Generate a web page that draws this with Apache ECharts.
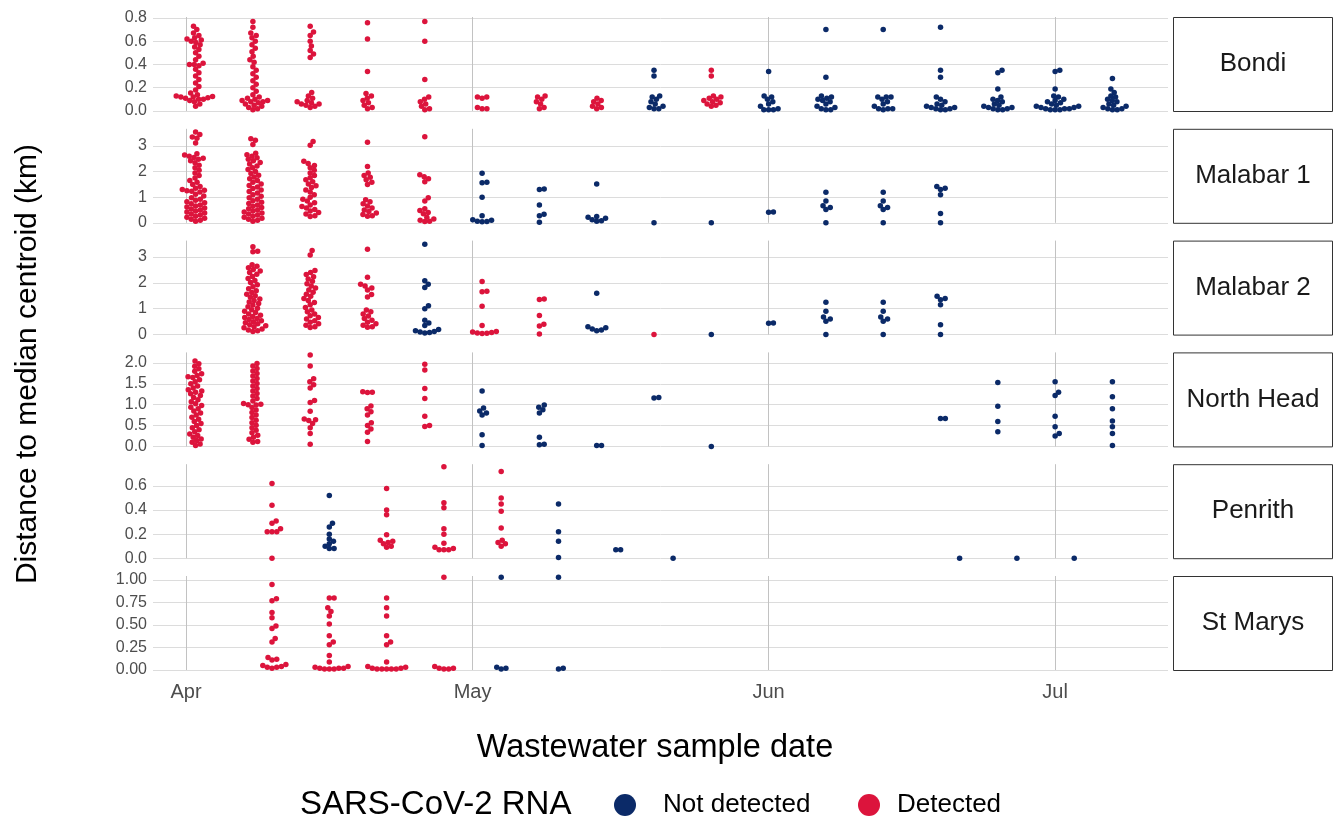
<!DOCTYPE html>
<html><head><meta charset="utf-8">
<script src="https://cdn.jsdelivr.net/npm/echarts@6/dist/echarts.min.js"></script>
<style>html,body{margin:0;padding:0;background:#fff}#c{width:1335px;height:819px}</style>
</head><body><div id="c"></div><script>
const FONT = '"Liberation Sans", Arial, sans-serif';
const NAVY = '#0b2a68', RED = '#dc143c';

const siteNames = ['Bondi', 'Malabar 1', 'Malabar 2', 'North Head', 'Penrith', 'St Marys'];
const monthTicks = ['2020-04-01', '2020-05-01', '2020-06-01', '2020-07-01'];
const monthLabels = ['Apr', 'May', 'Jun', 'Jul'];

// ---------- Bondi ----------
const bondiDates = ['2020-04-02','2020-04-08','2020-04-14','2020-04-20','2020-04-26','2020-05-02','2020-05-08','2020-05-14','2020-05-20','2020-05-26','2020-06-01','2020-06-07','2020-06-13','2020-06-19','2020-06-25','2020-07-01','2020-07-07'];
const bondiDetected = [1,1,1,1,1,1,1,1,0,1,0,0,0,0,0,0,0];
const bondiValues = [
 [0.73,0.70,0.67,0.65,0.63,0.62,0.61,0.60,0.59,0.57,0.55,0.53,0.50,0.47,0.44,0.41,0.40,0.40,0.39,0.36,0.33,0.30,0.27,0.24,0.21,0.18,0.155,0.14,0.13,0.125,0.12,0.12,0.115,0.11,0.10,0.10,0.09,0.08,0.06,0.04],
 [0.77,0.72,0.67,0.65,0.63,0.60,0.57,0.54,0.51,0.47,0.44,0.42,0.38,0.35,0.32,0.29,0.26,0.23,0.20,0.17,0.14,0.12,0.11,0.10,0.09,0.09,0.08,0.08,0.07,0.06,0.05,0.04,0.03,0.02,0.01],
 [0.73,0.68,0.65,0.60,0.56,0.52,0.49,0.46,0.16,0.13,0.11,0.09,0.08,0.07,0.06,0.06,0.05,0.04,0.03],
 [0.76,0.62,0.34,0.15,0.13,0.11,0.09,0.07,0.05,0.03,0.02],
 [0.77,0.60,0.27,0.12,0.10,0.08,0.06,0.04,0.02,0.01],
 [0.12,0.12,0.11,0.03,0.02,0.02],
 [0.13,0.12,0.10,0.08,0.06,0.03,0.02],
 [0.11,0.09,0.08,0.06,0.04,0.03,0.02],
 [0.35,0.30,0.13,0.12,0.10,0.08,0.06,0.04,0.03,0.02,0.02],
 [0.35,0.30,0.13,0.12,0.11,0.10,0.09,0.08,0.07,0.06,0.05,0.04],
 [0.34,0.13,0.12,0.10,0.08,0.06,0.04,0.02,0.01,0.01,0.01],
 [0.70,0.29,0.13,0.12,0.11,0.10,0.09,0.08,0.06,0.04,0.03,0.02,0.01,0.01],
 [0.70,0.12,0.12,0.12,0.10,0.08,0.06,0.04,0.02,0.02,0.02,0.01],
 [0.72,0.35,0.29,0.12,0.10,0.08,0.06,0.05,0.04,0.03,0.03,0.02,0.02,0.01,0.01],
 [0.35,0.33,0.19,0.12,0.10,0.09,0.08,0.06,0.05,0.04,0.03,0.03,0.02,0.02,0.01,0.01],
 [0.35,0.34,0.19,0.13,0.12,0.10,0.09,0.08,0.07,0.06,0.05,0.04,0.04,0.03,0.03,0.02,0.02,0.02,0.01,0.01,0.01],
 [0.28,0.19,0.16,0.13,0.12,0.10,0.09,0.08,0.06,0.05,0.04,0.03,0.02,0.02,0.01,0.01]
];
const bondiTicks = [0, 0.2, 0.4, 0.6, 0.8];

// ---------- Malabar 1 ----------
const malabar1Dates = ['2020-04-02','2020-04-08','2020-04-14','2020-04-20','2020-04-26','2020-05-02','2020-05-08','2020-05-14','2020-05-20','2020-05-26','2020-06-01','2020-06-07','2020-06-13','2020-06-19'];
const malabar1Detected = [1,1,1,1,1,0,0,0,0,0,0,0,0,0];
const malabar1Values = [
 [3.55,3.45,3.35,3.30,3.12,2.70,2.65,2.60,2.55,2.52,2.48,2.42,2.35,2.25,2.15,2.05,1.95,1.85,1.75,1.65,1.58,1.50,1.42,1.35,1.30,1.27,1.25,1.23,1.20,1.12,1.05,0.98,0.92,0.88,0.82,0.78,0.74,0.70,0.66,0.62,0.58,0.54,0.50,0.46,0.42,0.38,0.34,0.30,0.26,0.22,0.18,0.14,0.10,0.06],
 [3.28,3.22,3.06,2.72,2.66,2.60,2.54,2.48,2.42,2.36,2.30,2.22,2.15,2.08,2.00,1.93,1.86,1.79,1.72,1.65,1.58,1.52,1.46,1.40,1.34,1.28,1.22,1.16,1.10,1.04,0.98,0.92,0.86,0.80,0.75,0.70,0.65,0.60,0.55,0.50,0.46,0.42,0.38,0.34,0.30,0.26,0.22,0.18,0.14,0.10,0.06],
 [3.18,3.03,2.40,2.32,2.24,2.15,2.05,1.95,1.85,1.76,1.68,1.60,1.52,1.45,1.38,1.28,1.20,1.10,1.00,0.92,0.85,0.78,0.70,0.64,0.58,0.52,0.46,0.40,0.34,0.28,0.25],
 [3.15,2.20,1.95,1.85,1.78,1.68,1.58,1.50,0.90,0.82,0.74,0.66,0.58,0.50,0.44,0.38,0.32,0.28,0.26],
 [3.36,1.88,1.80,1.72,1.60,0.98,0.85,0.55,0.48,0.40,0.35,0.22,0.15,0.10,0.06,0.05],
 [1.94,1.58,1.56,1.00,0.28,0.12,0.10,0.06,0.05,0.04],
 [1.32,1.30,0.70,0.33,0.28,0.02],
 [1.52,0.25,0.22,0.18,0.12,0.08,0.06],
 [0.00],
 [0.00],
 [0.42,0.41],
 [1.19,0.85,0.67,0.60,0.52,0.00],
 [1.19,0.85,0.67,0.60,0.52,0.00],
 [1.42,1.35,1.30,1.10,0.36,0.00]
];
const malabar1Ticks = [0, 1, 2, 3];

// ---------- Malabar 2 ----------
const malabar2Dates = ['2020-04-08','2020-04-14','2020-04-20','2020-04-26','2020-05-02','2020-05-08','2020-05-14','2020-05-20','2020-05-26','2020-06-01','2020-06-07','2020-06-13','2020-06-19'];
const malabar2Detected = [1,1,1,0,1,1,0,1,0,0,0,0,0];
const malabar2Values = [
 [3.40,3.22,3.20,2.70,2.64,2.58,2.52,2.46,2.40,2.33,2.25,2.17,2.09,2.01,1.93,1.85,1.77,1.70,1.63,1.56,1.50,1.44,1.38,1.32,1.26,1.20,1.14,1.08,1.02,0.96,0.90,0.85,0.80,0.75,0.70,0.66,0.62,0.58,0.54,0.50,0.46,0.42,0.38,0.34,0.30,0.26,0.22,0.18,0.15,0.12],
 [3.25,3.08,2.48,2.40,2.32,2.24,2.15,2.06,1.97,1.88,1.80,1.72,1.64,1.56,1.48,1.40,1.32,1.24,1.15,1.05,0.95,0.88,0.80,0.73,0.66,0.60,0.54,0.48,0.42,0.36,0.30,0.27],
 [3.30,2.22,1.95,1.88,1.80,1.72,1.55,1.45,0.95,0.88,0.80,0.72,0.62,0.55,0.48,0.42,0.36,0.30,0.28],
 [3.49,2.08,1.95,1.82,1.12,1.00,0.55,0.45,0.35,0.20,0.15,0.12,0.10,0.08,0.06],
 [2.05,1.68,1.66,1.10,0.35,0.12,0.10,0.08,0.06,0.05,0.04],
 [1.38,1.36,0.74,0.40,0.33,0.02],
 [1.60,0.30,0.26,0.22,0.18,0.15],
 [0.00],
 [0.00],
 [0.45,0.44],
 [1.25,0.90,0.68,0.60,0.52,0.00],
 [1.25,0.90,0.68,0.60,0.52,0.00],
 [1.48,1.40,1.35,1.15,0.38,0.00]
];
const malabar2Ticks = [0, 1, 2, 3];

// ---------- North Head ----------
const northHeadDates = ['2020-04-02','2020-04-08','2020-04-14','2020-04-20','2020-04-26','2020-05-02','2020-05-08','2020-05-14','2020-05-20','2020-05-26','2020-06-19','2020-06-25','2020-07-01','2020-07-07'];
const northHeadDetected = [1,1,1,1,1,0,0,0,0,0,0,0,0,0];
const northHeadValues = [
 [2.05,1.98,1.92,1.86,1.80,1.74,1.70,1.67,1.65,1.60,1.55,1.50,1.45,1.40,1.36,1.33,1.30,1.26,1.22,1.17,1.12,1.07,1.02,0.98,0.94,0.90,0.85,0.80,0.75,0.70,0.65,0.60,0.55,0.50,0.45,0.40,0.35,0.30,0.26,0.22,0.18,0.14,0.10,0.06,0.02],
 [1.99,1.93,1.87,1.81,1.75,1.69,1.63,1.57,1.51,1.45,1.39,1.33,1.27,1.21,1.15,1.09,1.03,1.01,1.00,0.99,0.93,0.87,0.81,0.75,0.69,0.63,0.57,0.51,0.45,0.39,0.33,0.27,0.22,0.17,0.12,0.10],
 [2.19,1.93,1.62,1.55,1.48,1.40,1.10,1.05,0.84,0.66,0.64,0.62,0.55,0.45,0.31,0.05],
 [1.31,1.30,1.29,0.97,0.90,0.83,0.75,0.57,0.50,0.42,0.34,0.12],
 [1.97,1.83,1.39,1.15,0.72,0.50,0.48],
 [1.33,0.92,0.85,0.80,0.75,0.28,0.02],
 [0.99,0.94,0.88,0.80,0.22,0.05,0.04],
 [0.02,0.02],
 [1.17,1.16],
 [0.00],
 [0.67,0.67],
 [1.53,0.96,0.60,0.35],
 [1.55,1.30,1.22,0.72,0.47,0.31,0.25],
 [1.55,1.19,0.90,0.61,0.47,0.31,0.02]
];
const northHeadTicks = [0, 0.5, 1, 1.5, 2];

// ---------- Penrith ----------
const penrithDates = ['2020-04-10','2020-04-16','2020-04-22','2020-04-28','2020-05-04','2020-05-10','2020-05-16','2020-05-22','2020-06-21','2020-06-27','2020-07-03'];
const penrithDetected = [1,0,1,1,1,0,0,0,0,0,0];
const penrithValues = [
 [0.62,0.44,0.31,0.29,0.245,0.22,0.22,0.22,0.00],
 [0.52,0.29,0.26,0.20,0.16,0.14,0.12,0.10,0.08,0.08],
 [0.58,0.40,0.36,0.195,0.15,0.14,0.13,0.12,0.10,0.09],
 [0.76,0.46,0.42,0.245,0.20,0.125,0.09,0.08,0.07,0.07,0.07],
 [0.72,0.50,0.45,0.39,0.25,0.15,0.13,0.12,0.10],
 [0.45,0.22,0.14,0.005],
 [0.07,0.07],
 [0.00],
 [0.00],
 [0.00],
 [0.00]
];
const penrithTicks = [0, 0.2, 0.4, 0.6];

// ---------- St Marys ----------
const stMarysDates = ['2020-04-10','2020-04-16','2020-04-22','2020-04-28','2020-05-04','2020-05-10'];
const stMarysDetected = [1,1,1,1,0,0];
const stMarysValues = [
 [0.95,0.79,0.77,0.64,0.58,0.49,0.46,0.35,0.31,0.14,0.12,0.11,0.06,0.05,0.04,0.03,0.03,0.02],
 [0.80,0.80,0.69,0.65,0.60,0.51,0.38,0.31,0.28,0.16,0.09,0.04,0.03,0.02,0.02,0.02,0.01,0.01,0.01],
 [0.80,0.69,0.60,0.38,0.31,0.28,0.09,0.04,0.03,0.02,0.02,0.01,0.01,0.01,0.01,0.01],
 [1.03,0.04,0.02,0.02,0.01,0.01],
 [1.03,0.03,0.02,0.01],
 [1.03,0.02,0.01]
];
const stMarysTicks = [0, 0.25, 0.5, 0.75, 1];

// ---------- assemble ----------
const siteDates = [bondiDates, malabar1Dates, malabar2Dates, northHeadDates, penrithDates, stMarysDates];
const siteDetected = [bondiDetected, malabar1Detected, malabar2Detected, northHeadDetected, penrithDetected, stMarysDetected];
const siteValues = [bondiValues, malabar1Values, malabar2Values, northHeadValues, penrithValues, stMarysValues];
const siteTicks = [bondiTicks, malabar1Ticks, malabar2Ticks, northHeadTicks, penrithTicks, stMarysTicks];
const tickDecimals = [1, 0, 0, 1, 1, 2];
const yMax = [0.8086, 3.672, 3.634, 2.254, 0.781, 1.044];

const ORIGIN = Date.UTC(2020, 3, 1);
function dayNum(s) { const p = s.split('-').map(Number); return (Date.UTC(p[0], p[1] - 1, p[2]) - ORIGIN) / 86400000; }
const monthDays = monthTicks.map(dayNum);

const GL = 153, GW = 1015, GT0 = 17, GSTEP = 111.8, GH = 94;
const XMIN = -3.46, XMAX = 102.82;

const chart = echarts.init(document.getElementById('c'), null, { renderer: 'canvas' });

function buildSeries(offsets) {
  const series = [];
  siteNames.forEach((name, i) => {
    const nd = [], dt = [];
    siteDates[i].forEach((ds, g) => {
      const x = dayNum(ds);
      siteValues[i][g].forEach((v, k) => {
        const off = offsets ? offsets[i][g][k] : 0;
        (siteDetected[i][g] ? dt : nd).push([x + off, v]);
      });
    });
    series.push({ name: 'Not detected', type: 'scatter', xAxisIndex: i, yAxisIndex: i, data: nd,
      symbolSize: 5.5, clip: false, itemStyle: { color: NAVY, opacity: 1 }, silent: true, z: 3 });
    series.push({ name: 'Detected', type: 'scatter', xAxisIndex: i, yAxisIndex: i, data: dt,
      symbolSize: 5.5, clip: false, itemStyle: { color: RED, opacity: 1 }, silent: true, z: 3 });
  });
  return series;
}

const grids = [], xAxes = [], yAxes = [], graphics = [];
siteNames.forEach((name, i) => {
  const top = GT0 + GSTEP * i;
  grids.push({ left: GL, width: GW, top: top, height: GH, containLabel: false });
  xAxes.push({
    type: 'value', gridIndex: i, min: XMIN, max: XMAX,
    axisLine: { show: false },
    axisTick: { show: false, customValues: monthDays },
    axisLabel: { show: i === siteNames.length - 1, customValues: monthDays,
      formatter: v => monthLabels[monthDays.indexOf(v)] || '',
      color: '#4d4d4d', fontSize: 20, fontFamily: FONT, margin: 12 },
    splitLine: { show: true, lineStyle: { color: '#c2c2c2', width: 1 } }
  });
  yAxes.push({
    type: 'value', gridIndex: i, min: 0, max: yMax[i],
    axisLine: { show: false },
    axisTick: { show: false, customValues: siteTicks[i] },
    axisLabel: { customValues: siteTicks[i], formatter: v => v.toFixed(tickDecimals[i]),
      color: '#4d4d4d', fontSize: 16, fontFamily: FONT, margin: 6 },
    splitLine: { show: true, lineStyle: { color: '#dcdcdc', width: 1 } }
  });
  graphics.push({ type: 'rect', shape: { x: 1173.5, y: top + 0.5, width: 159, height: GH },
    style: { fill: '#fff', stroke: '#333', lineWidth: 1 }, silent: true });
  graphics.push({ type: 'text', x: 1253, y: top + GH / 2,
    style: { text: name, font: '26px ' + FONT, fill: '#1a1a1a', align: 'center', verticalAlign: 'middle' }, silent: true });
});

graphics.push({ type: 'text', x: 28, y: 364, rotation: Math.PI / 2,
  style: { text: 'Distance to median centroid (km)', font: '30px ' + FONT, fill: '#000', align: 'center', verticalAlign: 'middle' } });
graphics.push({ type: 'text', x: 655, y: 748,
  style: { text: 'Wastewater sample date', font: '32.5px ' + FONT, fill: '#000', align: 'center', verticalAlign: 'middle' } });
graphics.push({ type: 'text', x: 300, y: 805,
  style: { text: 'SARS-CoV-2 RNA', font: '33px ' + FONT, fill: '#000', align: 'left', verticalAlign: 'middle' } });
graphics.push({ type: 'circle', shape: { cx: 625, cy: 805, r: 11 }, style: { fill: NAVY } });
graphics.push({ type: 'text', x: 663, y: 805,
  style: { text: 'Not detected', font: '26px ' + FONT, fill: '#000', align: 'left', verticalAlign: 'middle' } });
graphics.push({ type: 'circle', shape: { cx: 869, cy: 805, r: 11 }, style: { fill: RED } });
graphics.push({ type: 'text', x: 897, y: 805,
  style: { text: 'Detected', font: '26px ' + FONT, fill: '#000', align: 'left', verticalAlign: 'middle' } });

chart.setOption({
  animation: false,
  backgroundColor: '#fff',
  textStyle: { fontFamily: FONT },
  grid: grids, xAxis: xAxes, yAxis: yAxes,
  graphic: graphics,
  series: buildSeries(null)
});

// beeswarm arrangement computed in pixel space through the axes
const D = 4.8;
const offsets = siteNames.map((name, i) => {
  const p0 = chart.convertToPixel({ gridIndex: i }, [0, 0]);
  const p1 = chart.convertToPixel({ gridIndex: i }, [10, 0]);
  const pxPerDay = (p1[0] - p0[0]) / 10;
  return siteDates[i].map((ds, g) => {
    const vals = siteValues[i][g];
    const pys = vals.map(v => chart.convertToPixel({ gridIndex: i }, [0, v])[1]);
    const order = vals.map((v, k) => k).sort((a, b) => pys[b] - pys[a]);
    const placed = [];
    const res = new Array(vals.length).fill(0);
    order.forEach(k => {
      const y = pys[k];
      const near = placed.filter(p => Math.abs(p.y - y) < D);
      const cands = [0];
      near.forEach(p => { const dx = Math.sqrt(D * D - (p.y - y) * (p.y - y)); cands.push(p.x + dx, p.x - dx); });
      cands.sort((a, b) => Math.abs(a) - Math.abs(b) || b - a);
      let chosen = 0;
      for (const c of cands) {
        if (near.every(p => (p.x - c) * (p.x - c) + (p.y - y) * (p.y - y) >= D * D - 0.01)) { chosen = c; break; }
      }
      placed.push({ x: chosen, y: y });
      res[k] = chosen / pxPerDay;
    });
    return res;
  });
});

chart.setOption({ series: buildSeries(offsets) });
</script></body></html>
